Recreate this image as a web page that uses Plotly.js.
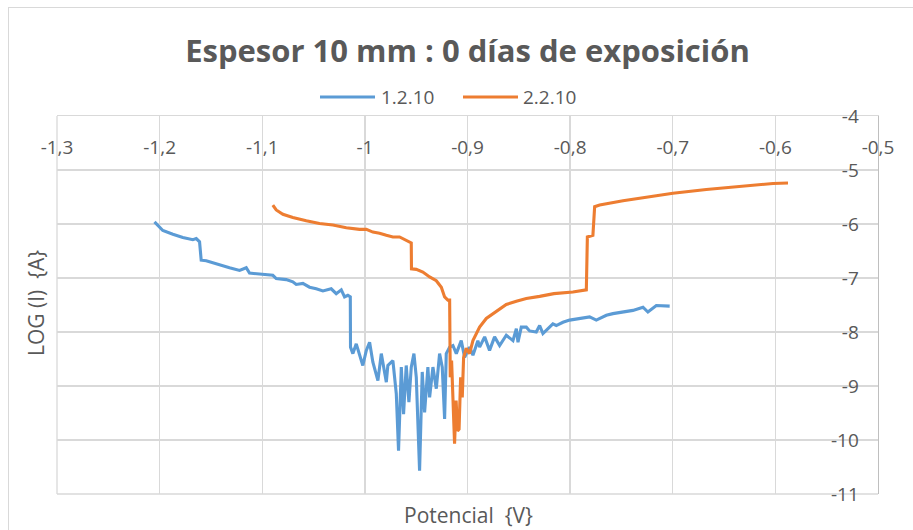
<!DOCTYPE html>
<html>
<head>
<meta charset="utf-8">
<script src="https://cdn.plot.ly/plotly-3.0.1.min.js"></script>
<style>
  html, body { margin: 0; padding: 0; background: #fff; overflow: hidden; }
  #chart { position: absolute; left: 0; top: 0; width: 913px; height: 530px; }
  #frame { position: absolute; left: 8px; top: 7px; right: -5px; bottom: -5px; border: 1px solid #d9d9d9; pointer-events: none; }
</style>
</head>
<body>
<div id="chart"></div>
<div id="frame"></div>
<script>
// Series 1.2.10
const blueX = [-1.2050,-1.2001,-1.1969,-1.1871,-1.1774,-1.1676,-1.1643,-1.1611,-1.1595,-1.1546,-1.1481,-1.1416,-1.1319,-1.1221,-1.1156,-1.1124,-1.1026,-1.0897,-1.0864,-1.0766,-1.0702,-1.0669,-1.0604,-1.0539,-1.0474,-1.0409,-1.0328,-1.0279,-1.0230,-1.0198,-1.0166,-1.0142,
  -1.0140,-1.0117,-1.0084,-1.0052,-1.0020,-0.9986,-0.9954,-0.9922,-0.9873,-0.9840,-0.9791,-0.9776,-0.9727,-0.9694,-0.9672,-0.9645,-0.9623,-0.9597,-0.9571,-0.9548,-0.9522,-0.9499,-0.9467,-0.9441,-0.9418,-0.9386,-0.9369,-0.9337,-0.9304,-0.9272,-0.9246,-0.9223,-0.9207,-0.9174,-0.9142,-0.9109,
  -0.9061,-0.9028,-0.8980,-0.8947,-0.8899,-0.8882,-0.8833,-0.8785,-0.8736,-0.8687,-0.8622,-0.8557,-0.8524,-0.8508,-0.8476,-0.8427,-0.8395,-0.8330,-0.8297,-0.8265,-0.8232,-0.8168,-0.8135,-0.8070,-0.8005,-0.7907,-0.7810,-0.7745,-0.7647,-0.7583,-0.7485,-0.7388,-0.7290,-0.7242,-0.7160,-0.7062,-0.7030];
const blueY = [-5.96,-6.05,-6.12,-6.19,-6.25,-6.29,-6.27,-6.33,-6.67,-6.68,-6.72,-6.76,-6.81,-6.86,-6.81,-6.91,-6.93,-6.95,-7.01,-7.03,-7.07,-7.12,-7.10,-7.17,-7.20,-7.24,-7.20,-7.29,-7.22,-7.35,-7.32,-7.35,
  -8.28,-8.40,-8.22,-8.43,-8.62,-8.34,-8.19,-8.56,-8.90,-8.40,-8.93,-8.62,-8.53,-9.14,-10.20,-8.65,-9.52,-8.62,-9.30,-8.65,-8.40,-8.84,-10.57,-8.74,-9.49,-8.65,-9.21,-8.65,-9.05,-8.40,-8.65,-9.61,-8.40,-8.28,-8.25,-8.40,
  -8.16,-8.47,-8.28,-8.43,-8.16,-8.28,-8.09,-8.34,-8.09,-8.25,-8.06,-8.16,-7.94,-8.19,-7.91,-7.91,-7.98,-8.00,-7.88,-8.03,-7.97,-7.85,-7.88,-7.82,-7.78,-7.75,-7.72,-7.78,-7.69,-7.66,-7.63,-7.60,-7.54,-7.63,-7.51,-7.51,-7.52];

// Series 2.2.10
const orangeX = [-1.0897,-1.0864,-1.0799,-1.0702,-1.0571,-1.0442,-1.0312,-1.0181,-1.0052,-0.9986,-0.9922,-0.9857,-0.9791,-0.9727,-0.9662,-0.9597,-0.9548,-0.9546,-0.9499,-0.9435,-0.9369,-0.9304,-0.9255,-0.9223,-0.9191,-0.9174,-0.9168,-0.9155,-0.9126,-0.9111,-0.9097,-0.9082,-0.9067,-0.9051,-0.9038,-0.9012,-0.8980,-0.8947,-0.8882,-0.8817,-0.8752,-0.8687,-0.8622,-0.8524,-0.8427,-0.8297,-0.8158,-0.7973,-0.7875,-0.7842,-0.7832,-0.7778,-0.7761,-0.7712,-0.7485,-0.7257,-0.6998,-0.6673,-0.6348,-0.6023,-0.5877];
const orangeY = [-5.65,-5.74,-5.82,-5.88,-5.94,-5.99,-6.02,-6.07,-6.10,-6.10,-6.15,-6.17,-6.21,-6.24,-6.24,-6.31,-6.35,-6.83,-6.84,-6.89,-6.98,-7.05,-7.17,-7.35,-7.41,-7.41,-8.84,-8.53,-10.07,-9.27,-9.83,-9.80,-8.84,-9.21,-8.47,-8.30,-8.40,-8.16,-7.91,-7.75,-7.66,-7.57,-7.49,-7.43,-7.38,-7.34,-7.29,-7.26,-7.24,-7.22,-6.24,-6.21,-5.68,-5.65,-5.57,-5.50,-5.43,-5.36,-5.30,-5.25,-5.24];

const seriesNames = ['1.2.10', '2.2.10'];
const seriesColors = ['#5B9BD5', '#ED7D31'];
const xTickVals = [-1.3,-1.2,-1.1,-1.0,-0.9,-0.8,-0.7,-0.6,-0.5];
const xTickText = ['-1,3','-1,2','-1,1','-1','-0,9','-0,8','-0,7','-0,6','-0,5'];
const yTickVals = [-11,-10,-9,-8,-7,-6,-5,-4];
const yTickText = ['-11','-10','-9','-8','-7','-6','-5','-4'];

const FONT = 'Open Sans, sans-serif';
const GREY = '#595959';
const PL = 57, PW = 821, PT = 116, PH = 378;
const px2x = p => (p - PL) / PW;
const py2y = p => (PT + PH - p) / PH;

const traces = [
  { x: blueX, y: blueY, name: seriesNames[0], type: 'scatter', mode: 'lines',
    line: { color: seriesColors[0], width: 3.1 } },
  { x: orangeX, y: orangeY, name: seriesNames[1], type: 'scatter', mode: 'lines',
    line: { color: seriesColors[1], width: 3.1 } }
];

// legend drawn as shapes + text (Excel-style long legend lines)
const legY = py2y(97);
const legendShapes = [
  { type: 'line', xref: 'paper', yref: 'paper', x0: px2x(320), x1: px2x(375), y0: legY, y1: legY, line: { color: seriesColors[0], width: 3.2 } },
  { type: 'line', xref: 'paper', yref: 'paper', x0: px2x(463), x1: px2x(518), y0: legY, y1: legY, line: { color: seriesColors[1], width: 3.2 } }
];
const legendText = [
  { text: seriesNames[0], xref: 'paper', yref: 'paper', x: px2x(379), y: legY, xanchor: 'left', yanchor: 'middle', showarrow: false, font: { family: FONT, size: 19, color: GREY } },
  { text: seriesNames[1], xref: 'paper', yref: 'paper', x: px2x(521), y: legY, xanchor: 'left', yanchor: 'middle', showarrow: false, font: { family: FONT, size: 19, color: GREY } }
];

const layout = {
  width: 913, height: 530,
  margin: { l: PL, r: 913 - PL - PW, t: PT, b: 530 - PT - PH, pad: 0 },
  paper_bgcolor: '#ffffff', plot_bgcolor: '#ffffff',
  font: { family: FONT, color: GREY, size: 19 },
  title: { text: '<b>Espesor 10 mm : 0 días de exposición</b>', font: { family: FONT, size: 31, color: GREY },
           xref: 'paper', x: 0.5, xanchor: 'center', yref: 'container', y: 1 - 51/530, yanchor: 'middle' },
  showlegend: false,
  xaxis: {
    range: [-1.3, -0.5], side: 'top', tickmode: 'array', tickvals: xTickVals, ticktext: xTickText,
    ticklabelposition: 'inside', ticklabelstandoff: 26, ticklabeloverflow: 'allow', ticks: '',
    showgrid: true, gridcolor: '#d9d9d9', gridwidth: 1.3, zeroline: false,
    showline: true, linecolor: '#d9d9d9', linewidth: 1.3, mirror: false,
    tickfont: { family: FONT, size: 19, color: GREY }, fixedrange: true
  },
  yaxis: {
    range: [-11, -4], side: 'right', tickmode: 'array', tickvals: yTickVals, ticktext: yTickText,
    ticklabelposition: 'inside', ticklabelstandoff: 20, ticklabeloverflow: 'allow', ticks: '',
    showgrid: true, gridcolor: '#d9d9d9', gridwidth: 1.3, zeroline: false,
    showline: true, linecolor: '#bfbfbf', linewidth: 1.3,
    tickfont: { family: FONT, size: 19, color: GREY }, fixedrange: true
  },
  annotations: [
    { text: 'Potencial  {V}', xref: 'paper', yref: 'paper', x: px2x(468), y: py2y(515),
      xanchor: 'center', yanchor: 'middle', showarrow: false, font: { family: FONT, size: 21, color: GREY } },
    { text: 'LOG (I)  {A}', xref: 'paper', yref: 'paper', x: px2x(36), y: py2y(303),
      xanchor: 'center', yanchor: 'middle', textangle: -90, showarrow: false, font: { family: FONT, size: 21, color: GREY } }
  ].concat(legendText),
  shapes: [
    { type: 'line', xref: 'paper', yref: 'paper', x0: 0, x1: 0, y0: 0, y1: 1, line: { color: '#d9d9d9', width: 1.3 }, layer: 'below' },
    { type: 'line', xref: 'paper', yref: 'paper', x0: 0, x1: 1, y0: 0, y1: 0, line: { color: '#d9d9d9', width: 1.3 }, layer: 'below' }
  ].concat(legendShapes)
};

Plotly.newPlot('chart', traces, layout, { staticPlot: true, displayModeBar: false });
</script>
</body>
</html>
